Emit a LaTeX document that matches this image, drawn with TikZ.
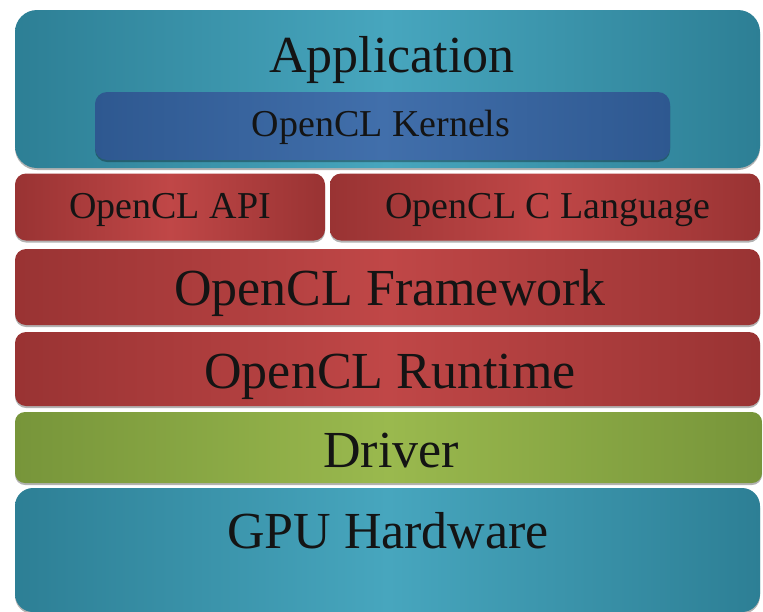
\documentclass[tikz,border=0pt]{standalone}
\usepackage{fontspec}
\setmainfont{Liberation Serif}
\usetikzlibrary{fadings}

% palette: edge tone, light centre tone, dark rim tone
\definecolor{tealE}{HTML}{2D7F95}
\definecolor{tealL}{HTML}{47A6BE}
\definecolor{tealD}{HTML}{1D5A6C}
\definecolor{blueE}{HTML}{2E5890}
\definecolor{blueL}{HTML}{416FAB}
\definecolor{blueD}{HTML}{1A3560}
\definecolor{redE}{HTML}{993333}
\definecolor{redL}{HTML}{C04747}
\definecolor{redD}{HTML}{5E1A1A}
\definecolor{greenE}{HTML}{77953A}
\definecolor{greenL}{HTML}{9AB94E}
\definecolor{greenD}{HTML}{4A5E22}
\definecolor{inkc}{HTML}{141414}

% darkening towards the top and bottom rims of each slab
\pgfdeclareverticalshading{rimshade}{100bp}{%
  color(0bp)=(pgftransparent!0); color(5bp)=(pgftransparent!30);
  color(14bp)=(pgftransparent!100); color(86bp)=(pgftransparent!100);
  color(95bp)=(pgftransparent!55); color(100bp)=(pgftransparent!30)}
\pgfdeclarefading{rimfade}{\pgfuseshading{rimshade}}

\tikzset{
  slab/.style={rectangle, inner sep=0pt, outer sep=0pt,
    preaction={fill=black, fill opacity=.30, transform canvas={yshift=-2pt}}},
  tealbox/.style={slab, left color=tealE, right color=tealE, middle color=tealL,
    postaction={fill=tealD, path fading=rimfade}},
  bluebox/.style={slab, left color=blueE, right color=blueE, middle color=blueL,
    postaction={fill=blueD, path fading=rimfade}},
  redbox/.style={slab, left color=redE, right color=redE, middle color=redL,
    postaction={fill=redD, path fading=rimfade}},
  greenbox/.style={slab, left color=greenE, right color=greenE, middle color=greenL,
    postaction={fill=greenD, path fading=rimfade}},
  bigtxt/.style={anchor=base, inner sep=0pt, text=inkc, font=\fontsize{52}{60}\selectfont},
  smalltxt/.style={anchor=base, inner sep=0pt, text=inkc, font=\fontsize{38}{44}\selectfont},
}

\begin{document}
\begin{tikzpicture}[x=1pt,y=-1pt]
\useasboundingbox (0,0) rectangle (763,611);
\fill[white] (0,0) rectangle (763,611);

% application layer with the kernels inside it
\node[tealbox, rounded corners=22pt, minimum width=745pt, minimum height=158pt] (app) at (387.5,89) {};
\node[bluebox, rounded corners=12pt, minimum width=575pt, minimum height=68pt] (kern) at (382.5,126) {};
\node[bigtxt] (appT) at (392,72) {Application};
\node[smalltxt] (kernT) at (381,136) {OpenCL Kernels};

% OpenCL platform layers
\node[redbox, rounded corners=11pt, minimum width=310pt, minimum height=67pt] (api) at (170,207) {};
\node[redbox, rounded corners=11pt, minimum width=430pt, minimum height=67pt] (clang) at (545,207) {};
\node[redbox, rounded corners=11pt, minimum width=745pt, minimum height=76pt] (frame) at (387.5,287) {};
\node[redbox, rounded corners=11pt, minimum width=745pt, minimum height=74pt] (run) at (387.5,369) {};
\node[smalltxt] (apiT) at (170,218) {OpenCL API};
\node[smalltxt] (clangT) at (548,218) {OpenCL C Language};
\node[bigtxt] (frameT) at (390,305) {OpenCL Framework};
\node[bigtxt] (runT) at (390,388) {OpenCL Runtime};

% driver and hardware
\node[greenbox, rounded corners=10pt, minimum width=747pt, minimum height=71pt] (drv) at (388.5,447.5) {};
\node[tealbox, rounded corners=18pt, minimum width=745pt, minimum height=124pt] (gpu) at (387.5,550) {};
\node[bigtxt] (drvT) at (391,467) {Driver};
\node[bigtxt] (gpuT) at (388,548) {GPU Hardware};
\end{tikzpicture}
\end{document}
